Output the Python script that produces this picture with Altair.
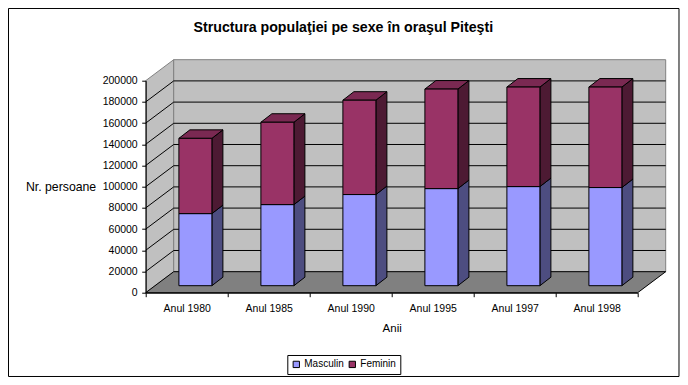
import json
import altair as alt
import pandas as pd

# ---------------- data ----------------
YEARS = ["Anul 1980", "Anul 1985", "Anul 1990", "Anul 1995", "Anul 1997", "Anul 1998"]
MASCULIN = [68000, 76500, 86000, 91600, 93500, 92600]
FEMININ = [71000, 77700, 89000, 93900, 93900, 94800]
SERIES = ["Masculin", "Feminin"]
Y_TICKS = list(range(0, 200001, 20000))
TITLE = "Structura populaţiei pe sexe în oraşul Piteşti"
X_TITLE = "Anii"
Y_TITLE = "Nr. persoane"

# ---------------- style / geometry ----------------
FONT = "Liberation Sans"
W, H = 492, 212
N = len(YEARS)
YMAX = Y_TICKS[-1]
ux = N / W          # data units per pixel (x)
uy = YMAX / H       # data units per pixel (y)
WALL_DX, WALL_DY = 28 * ux, 21 * uy
BAR_FX, BAR_FY = 8.7 * ux, 7 * uy
BAR_W = 33 * ux
BAR_DX, BAR_DY = 11 * ux, 8.5 * uy

FRONT = {"Masculin": "#9999FF", "Feminin": "#993366"}
SIDE = {"Masculin": "#4D4D80", "Feminin": "#4D1A33"}
TOP = "#7A2952"
WALL = "#C0C0C0"
FLOOR = "#808080"

xs = alt.Scale(domain=[0, N], nice=False, zero=False)
ys = alt.Scale(domain=[0, YMAX], nice=False, zero=False)

labels_js = json.dumps(YEARS)
x_axis = alt.Axis(
    values=[k * 0.5 for k in range(0, 2 * N + 1)],
    labelExpr=f"datum.value % 1 == 0.5 ? {labels_js}[floor(datum.value)] : ''",
    tickOpacity={"condition": {"test": "datum.value % 1 != 0", "value": 0}, "value": 1},
    title=X_TITLE, titleFontWeight="normal", titleFontSize=11.5, titleFont=FONT,
    titleColor="black", titlePadding=9,
    labelFont=FONT, labelFontSize=10.5, labelColor="black", labelOverlap=False,
    labelFlush=False, tickSize=4, labelPadding=6.5, grid=False,
    domainColor="black", tickColor="black", zindex=1)
y_axis = alt.Axis(
    values=Y_TICKS, format="d", title=Y_TITLE, titleAngle=0, titleAlign="right",
    titleBaseline="middle", titleX=-50, titleY=105.5, titleFontWeight="normal",
    titleFontSize=12.3, titleFont=FONT, titleColor="black",
    labelFont=FONT, labelFontSize=10.5, labelColor="black", tickSize=4, labelPadding=4.5,
    grid=False, domainColor="black", tickColor="black", zindex=1)


def X(f="x"):
    return alt.X(f"{f}:Q", scale=xs, axis=x_axis)


def Y(f="y"):
    return alt.Y(f"{f}:Q", scale=ys, axis=y_axis, stack=None)


# ---------------- walls / floor ----------------
left_wall = pd.DataFrame({"x": [0, WALL_DX], "y": [0, WALL_DY],
                          "y2": [YMAX, YMAX + WALL_DY]})
back_wall = pd.DataFrame({"x": [WALL_DX], "x2": [N + WALL_DX],
                          "y": [WALL_DY], "y2": [YMAX + WALL_DY]})
floor = pd.DataFrame({"y": [0, WALL_DY], "x": [0, WALL_DX], "x2": [N, N + WALL_DX]})
grid_back = pd.DataFrame({"x": WALL_DX, "x2": N + WALL_DX,
                          "y": [v + WALL_DY for v in Y_TICKS[1:-1]]})
grid_left = pd.DataFrame({"x": 0.0, "x2": WALL_DX,
                          "y": Y_TICKS[1:-1], "y2": [v + WALL_DY for v in Y_TICKS[1:-1]]})

l_left = alt.Chart(left_wall).mark_area(fill=WALL, stroke=FLOOR, strokeWidth=1).encode(
    x=X(), y=Y(), y2="y2:Q")
l_back = alt.Chart(back_wall).mark_rect(fill=WALL, stroke=FLOOR, strokeWidth=1).encode(
    x=X(), x2="x2:Q", y=Y(), y2="y2:Q")
l_floor = alt.Chart(floor).mark_area(fill=FLOOR, stroke="black", strokeWidth=1,
                                     orient="horizontal").encode(
    y=Y(), x=X(), x2="x2:Q")
l_gb = alt.Chart(grid_back).mark_rule(color="black", strokeWidth=1).encode(
    x=X(), x2="x2:Q", y=Y())
l_gl = alt.Chart(grid_left).mark_rule(color="black", strokeWidth=1).encode(
    x=X(), x2="x2:Q", y=Y(), y2="y2:Q")

# ---------------- bars ----------------
fronts, sides, tops = [], [], []
for i, yr in enumerate(YEARS):
    c = i + 0.5 + BAR_FX
    xl, xr = c - BAR_W / 2, c + BAR_W / 2
    segs = [("Masculin", 0, MASCULIN[i]),
            ("Feminin", MASCULIN[i], MASCULIN[i] + FEMININ[i])]
    for s, lo, hi in segs:
        fronts.append({"year": yr, "series": s, "x": xl, "x2": xr,
                       "y": lo + BAR_FY, "y2": hi + BAR_FY})
        sid = f"{yr}-{s}"
        sides.append({"id": sid, "fill": SIDE[s], "x": xr,
                      "y": lo + BAR_FY, "y2": hi + BAR_FY})
        sides.append({"id": sid, "fill": SIDE[s], "x": xr + BAR_DX,
                      "y": lo + BAR_FY + BAR_DY, "y2": hi + BAR_FY + BAR_DY})
    top = segs[-1][2]
    tops.append({"id": yr, "y": top + BAR_FY, "x": xl, "x2": xr})
    tops.append({"id": yr, "y": top + BAR_FY + BAR_DY, "x": xl + BAR_DX, "x2": xr + BAR_DX})

l_side = alt.Chart(pd.DataFrame(sides)).mark_area(stroke="black", strokeWidth=1).encode(
    x=X(), y=Y(), y2="y2:Q", color=alt.Color("fill:N", scale=None), detail="id:N")
l_top = alt.Chart(pd.DataFrame(tops)).mark_area(fill=TOP, stroke="black", strokeWidth=1,
                                                orient="horizontal").encode(
    y=Y(), x=X(), x2="x2:Q", detail="id:N")

l_front = alt.Chart(pd.DataFrame(fronts)).mark_rect(stroke="black", strokeWidth=1).encode(
    x=X(), x2="x2:Q", y=Y(), y2="y2:Q",
    color=alt.Color("series:N",
                    scale=alt.Scale(domain=SERIES, range=[FRONT[s] for s in SERIES]),
                    legend=alt.Legend(orient="none", legendX=141.6, legendY=274.3,
                                      direction="horizontal", title=None,
                                      strokeColor="black", padding=4, fillColor="white",
                                      symbolType="square", symbolSize=40,
                                      symbolStrokeColor="black", symbolStrokeWidth=1,
                                      labelFont=FONT, labelFontSize=10,
                                      labelColor="black", columnPadding=2, labelOffset=3)),
)

frame = alt.Chart(pd.DataFrame({"k": [0]})).mark_rect(
    fillOpacity=0, stroke="black", strokeWidth=1).encode(
    x=alt.value(-137.2), x2=alt.value(533.3), y=alt.value(-72.2), y2=alt.value(295.8))

chart = alt.layer(l_left, l_back, l_floor, l_gb, l_gl, l_side, l_top, l_front, frame).properties(
    width=W, height=H,
    title=alt.TitleParams(TITLE, font=FONT, fontSize=14.2, fontWeight="bold",
                          color="black", anchor="middle", offset=-27, dx=-48.4),
    autosize=alt.AutoSizeParams(type="none"),
    padding={"left": 137.7, "top": 72.7, "right": 42.3, "bottom": 84},
    background="white",
).configure_view(stroke=None)

chart.save("out.html", embed_options={"renderer": "svg", "actions": False})
